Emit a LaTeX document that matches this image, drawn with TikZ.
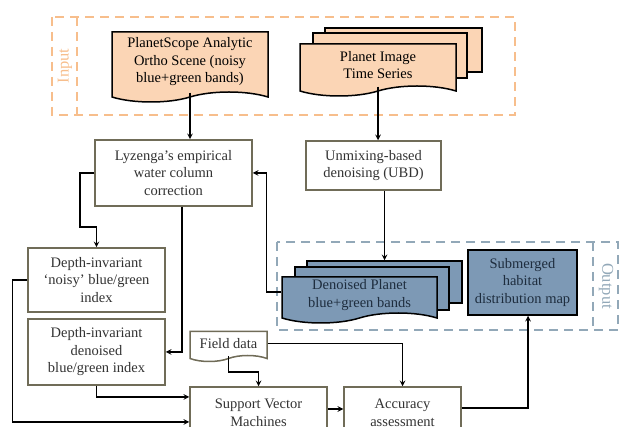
\documentclass[tikz,border=0pt]{standalone}
\usepackage{fontspec}
\setmainfont{Liberation Serif}
\usetikzlibrary{shapes,arrows,positioning,calc}
\usepackage{xcolor}
\definecolor{peach}{RGB}{251,213,181}
\definecolor{inorange}{RGB}{247,190,140}
\definecolor{steel}{RGB}{125,153,181}
\definecolor{outgray}{RGB}{146,168,184}
\definecolor{olive}{RGB}{112,108,88}
\definecolor{navy}{RGB}{30,45,62}

\begin{document}
\begin{tikzpicture}[x=1pt, y=-1pt, font=\fontsize{14.5}{17.5}\selectfont]
    \tikzstyle{process} = [rectangle, draw=olive, line width=1.5pt, fill=white, text=black!80, align=center, inner sep=0pt]
    \tikzstyle{doc} = [tape, tape bend top=none, tape bend bottom=in and out, tape bend height=10pt, draw=black, line width=1.5pt, align=center, inner sep=0pt]
    \tikzstyle{sheet} = [rectangle, draw=black, line width=1.5pt, inner sep=0pt]
    \tikzstyle{frame} = [line width=1.6pt, dash pattern=on 9pt off 6pt]
    \tikzstyle{arrow} = [line width=1.5pt, ->, >=stealth]

    \clip (0,0) rectangle (619,427);

    % Rahmen
    \draw[frame, inorange] (52,17) rectangle (515,115);
    \draw[frame, inorange] (77,17) -- (77,115);
    \node[rotate=90, text=inorange, font=\fontsize{16.5}{18}\selectfont] (inlbl) at (65,66) {Input};
    \draw[frame, outgray] (277,242) rectangle (618,330);
    \draw[frame, outgray] (593,242) -- (593,330);
    \node[rotate=-90, text=outgray, font=\fontsize{16.5}{18}\selectfont] (outlbl) at (606,286) {Output};

    % Knoten
    \node[doc, fill=peach, minimum width=156, minimum height=70] (scene) at (190,62) {PlanetScope Analytic\\Ortho Scene (noisy\\blue+green bands)};
    \node[sheet, fill=peach, minimum width=157, minimum height=44] (ts3) at (403.5,50) {};
    \node[sheet, fill=peach, minimum width=154, minimum height=45] (ts2) at (390,55.5) {};
    \node[doc, fill=peach, minimum width=156, minimum height=52] (ts1) at (378,65) {Planet Image\\Time Series};

    \node[process, minimum width=157, minimum height=66] (lyz) at (173.5,173) {Lyzenga's empirical\\water column\\correction};
    \node[process, minimum width=135, minimum height=49] (ubd) at (373.5,165.5) {Unmixing-based\\denoising (UBD)};
    \node[process, minimum width=137, minimum height=64] (noisy) at (96.5,280) {Depth-invariant\\`noisy' blue/green\\index};
    \node[process, minimum width=137, minimum height=66] (dnidx) at (96.5,352) {Depth-invariant\\denoised\\blue/green index};
    \node[doc, draw=olive, fill=white, text=black!80, minimum width=77, minimum height=30, tape bend height=6pt] (field) at (228.5,343.5) {Field data};
    \node[process, minimum width=137, minimum height=52] (svm) at (258.5,413) {Support Vector\\Machines};
    \node[process, minimum width=117, minimum height=52] (acc) at (402.5,413) {Accuracy\\assessment};

    \node[sheet, fill=steel, minimum width=155, minimum height=42] (db3) at (384.5,282) {};
    \node[sheet, fill=steel, minimum width=154, minimum height=43] (db2) at (372,288.5) {};
    \node[doc, fill=steel, text=navy, minimum width=155, minimum height=46] (db1) at (359.5,295) {Denoised Planet\\blue+green bands};
    \node[sheet, fill=steel, text=navy, align=center, minimum width=109, minimum height=65] (map) at (522.5,282.5) {Submerged\\habitat\\distribution map};

    \coordinate (k1) at (80,227);
    \coordinate (k2) at (228.5,372);

    % Pfeile
    \draw[arrow] (scene.south) -- (scene.south |- lyz.north);
    \draw[arrow] (ts1.south) -- (ts1.south |- ubd.north);
    \draw[arrow] ([xshift=11pt]ubd.south) -- ([xshift=11pt]ubd.south |- db3.north);
    \draw[arrow] (lyz.west) -| (k1) -| (noisy.north);
    \draw[arrow] (noisy.west) -- ++(-15,0) |- ([yshift=-9pt]svm.west);
    \draw[arrow] ([xshift=8.5pt]lyz.south) |- (dnidx.east);
    \draw[arrow] (dnidx.south) |- ([yshift=16pt]svm.west);
    \draw[arrow] ([yshift=3pt]db1.west) -- ++(-15,0) |- (lyz.east);
    \draw[arrow] (field.south) -- (k2) -| (svm.north);
    \draw[arrow] (field.east) -| (acc.north);
    \draw[arrow] ([yshift=4pt]svm.east) -- ([yshift=4pt]acc.west);
    \draw[arrow] ([yshift=5pt]acc.east) -| ([xshift=5.5pt]map.south);
\end{tikzpicture}
\end{document}
